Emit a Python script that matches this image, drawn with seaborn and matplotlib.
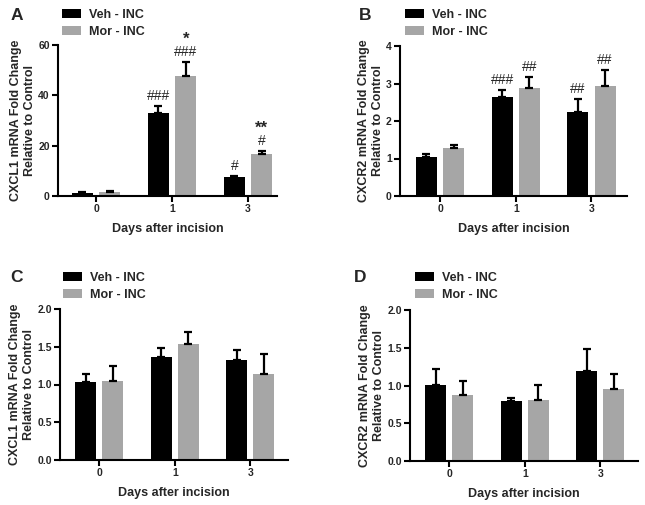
import numpy as np
import pandas as pd
import matplotlib
matplotlib.use("Agg")
import matplotlib.pyplot as plt
import seaborn as sns

# ---------------- data ----------------
days = ["0", "1", "3"]
groups = ["Veh - INC", "Mor - INC"]
xlabel = "Days after incision"

a_ylabel = "CXCL1 mRNA Fold Change\nRelative to Control"
a_veh = [1.3, 32.8, 7.4]
a_veh_err = [0.3, 3.0, 0.7]
a_mor = [1.6, 47.7, 16.7]
a_mor_err = [0.3, 5.7, 1.2]
a_veh_marks = [[], ["###"], ["#"]]
a_mor_marks = [[], ["###", "*"], ["#", "**"]]
a_yticks = [0, 20, 40, 60]

b_ylabel = "CXCR2 mRNA Fold Change\nRelative to Control"
b_veh = [1.03, 2.63, 2.23]
b_veh_err = [0.10, 0.21, 0.36]
b_mor = [1.29, 2.89, 2.93]
b_mor_err = [0.08, 0.29, 0.44]
b_veh_marks = [[], ["###"], ["##"]]
b_mor_marks = [[], ["##"], ["##"]]
b_yticks = [0, 1, 2, 3, 4]

c_ylabel = "CXCL1 mRNA Fold Change\nRelative to Control"
c_veh = [1.03, 1.36, 1.32]
c_veh_err = [0.11, 0.13, 0.14]
c_mor = [1.05, 1.53, 1.14]
c_mor_err = [0.20, 0.17, 0.26]
c_veh_marks = [[], [], []]
c_mor_marks = [[], [], []]
c_yticks = [0.0, 0.5, 1.0, 1.5, 2.0]

d_ylabel = "CXCR2 mRNA Fold Change\nRelative to Control"
d_veh = [1.01, 0.79, 1.19]
d_veh_err = [0.21, 0.04, 0.30]
d_mor = [0.87, 0.81, 0.95]
d_mor_err = [0.19, 0.20, 0.20]
d_veh_marks = [[], [], []]
d_mor_marks = [[], [], []]
d_yticks = [0.0, 0.5, 1.0, 1.5, 2.0]

panel_letters = ["A", "B", "C", "D"]

# ---------------- style ----------------
sns.set_theme(style="ticks")
plt.rcParams["font.family"] = ["Liberation Sans", "DejaVu Sans"]
plt.rcParams["font.weight"] = "bold"
plt.rcParams["axes.labelweight"] = "bold"

colors = {"Veh - INC": "#000000", "Mor - INC": "#A6A6A6"}
W, H = 645, 505
fig = plt.figure(figsize=(W / 100, H / 100), dpi=100)


def px_axes(left, top, right, bottom):
    return fig.add_axes([left / W, 1 - bottom / H, (right - left) / W, (bottom - top) / H])


panels = [
    dict(box=(58, 45, 277, 196), xlim=(-0.5, 2.38), ylabel=a_ylabel,
         veh=a_veh, veh_err=a_veh_err, mor=a_mor, mor_err=a_mor_err,
         vm=a_veh_marks, mm=a_mor_marks, yticks=a_yticks, fmt="{:.0f}",
         leg=(62, 9), letter=(11, 15)),
    dict(box=(400, 46, 627, 196), xlim=(-0.53, 2.47), ylabel=b_ylabel,
         veh=b_veh, veh_err=b_veh_err, mor=b_mor, mor_err=b_mor_err,
         vm=b_veh_marks, mm=b_mor_marks, yticks=b_yticks, fmt="{:.0f}",
         leg=(405, 9), letter=(359, 15)),
    dict(box=(60, 309, 288, 460), xlim=(-0.52, 2.5), ylabel=c_ylabel,
         veh=c_veh, veh_err=c_veh_err, mor=c_mor, mor_err=c_mor_err,
         vm=c_veh_marks, mm=c_mor_marks, yticks=c_yticks, fmt="{:.1f}",
         leg=(63, 272), letter=(10, 277)),
    dict(box=(410, 310, 638, 461), xlim=(-0.52, 2.5), ylabel=d_ylabel,
         veh=d_veh, veh_err=d_veh_err, mor=d_mor, mor_err=d_mor_err,
         vm=d_veh_marks, mm=d_mor_marks, yticks=d_yticks, fmt="{:.1f}",
         leg=(415, 272), letter=(354, 277)),
]

for letter, p in zip(panel_letters, panels):
    ax = px_axes(*p["box"])
    df = pd.DataFrame({
        "day": days * 2,
        "group": [groups[0]] * 3 + [groups[1]] * 3,
        "value": list(p["veh"]) + list(p["mor"]),
    })
    sns.barplot(data=df, x="day", y="value", hue="group", order=days,
                hue_order=groups, palette=colors, width=0.72, gap=0.23,
                errorbar=None, saturation=1, linewidth=0, ax=ax)

    errs = [p["veh_err"], p["mor_err"]]
    marks = [p["vm"], p["mm"]]
    for cont, err, mk in zip(ax.containers, errs, marks):
        xs = [b.get_x() + b.get_width() / 2 for b in cont]
        ys = [b.get_height() for b in cont]
        ax.errorbar(xs, ys, yerr=[np.zeros(len(err)), err], fmt="none",
                    ecolor="black", elinewidth=1.6, capsize=3.2, capthick=1.6,
                    zorder=3)
        for x, y, e, labs in zip(xs, ys, err, mk):
            for k, lab in enumerate(labs):
                star = lab.startswith("*")
                ax.annotate(lab, (x, y + e),
                            xytext=(0, 2 + 10.5 * k - (1.5 if star else 0)),
                            textcoords="offset points", ha="center", va="bottom",
                            fontsize=12 if star else 10,
                            fontweight="bold" if star else "normal")

    ax.set_xlim(*p["xlim"])
    ax.set_ylim(p["yticks"][0], p["yticks"][-1])
    ax.set_yticks(p["yticks"])
    ax.set_yticklabels([p["fmt"].format(v) for v in p["yticks"]])
    ax.set_xlabel(xlabel, fontsize=9, fontweight="bold", labelpad=6)
    ax.set_ylabel(p["ylabel"], fontsize=9, fontweight="bold", labelpad=1.5,
                  linespacing=1.25)
    ax.tick_params(axis="both", direction="out", length=4, width=1.5,
                   labelsize=7.5, pad=2, color="black")
    for lab in ax.get_xticklabels() + ax.get_yticklabels():
        lab.set_fontweight("bold")
    sns.despine(ax=ax)
    for s in ["left", "bottom"]:
        ax.spines[s].set_linewidth(1.5)
        ax.spines[s].set_color("black")

    handles, labels = ax.get_legend_handles_labels()
    lx, ly = p["leg"]
    ax.legend(handles, labels, loc="upper left",
              bbox_to_anchor=(lx / W, 1 - ly / H), bbox_transform=fig.transFigure,
              frameon=False, borderpad=0, borderaxespad=0, handlelength=1.5,
              handleheight=0.75, handletextpad=0.65, labelspacing=0.4,
              prop={"size": 9, "weight": "bold"})

    lxp, lyp = p["letter"]
    fig.text(lxp / W, 1 - lyp / H, letter, fontsize=12.5, fontweight="bold",
             ha="left", va="center")

fig.savefig("out.png", dpi=100)
